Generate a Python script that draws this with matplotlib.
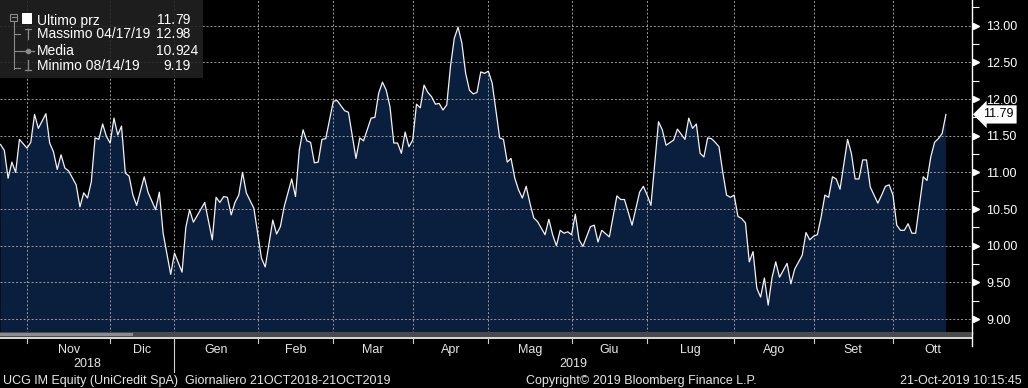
import matplotlib
matplotlib.use("Agg")
import matplotlib.pyplot as plt
import matplotlib.transforms as mtransforms
from matplotlib.patches import Rectangle
from matplotlib.ticker import MultipleLocator, FormatStrFormatter
import pandas as pd

W, H = 1028, 388
NAVY = "#0a1f3e"
plt.rcParams["font.family"] = ["Liberation Sans", "DejaVu Sans"]

# --- data: UCG IM Equity daily close ---
dates = [
    "2018-10-23", "2018-10-24", "2018-10-25", "2018-10-26", "2018-10-29", "2018-10-30",
    "2018-11-01", "2018-11-02", "2018-11-05", "2018-11-06", "2018-11-08", "2018-11-09",
    "2018-11-12", "2018-11-13", "2018-11-14", "2018-11-15", "2018-11-16", "2018-11-20",
    "2018-11-21", "2018-11-22", "2018-11-23", "2018-11-26", "2018-11-27", "2018-11-28",
    "2018-11-29", "2018-11-30",
    "2018-12-03", "2018-12-04", "2018-12-05", "2018-12-06", "2018-12-07", "2018-12-10",
    "2018-12-11", "2018-12-12", "2018-12-14", "2018-12-17", "2018-12-19", "2018-12-20",
    "2018-12-21", "2018-12-28",
    "2019-01-02", "2019-01-04", "2019-01-07", "2019-01-08", "2019-01-09", "2019-01-14",
    "2019-01-16", "2019-01-17", "2019-01-18", "2019-01-21", "2019-01-22", "2019-01-23",
    "2019-01-24", "2019-01-25", "2019-01-28", "2019-01-29", "2019-01-31",
    "2019-02-04", "2019-02-05", "2019-02-07", "2019-02-08", "2019-02-11", "2019-02-12",
    "2019-02-14", "2019-02-15", "2019-02-18", "2019-02-19", "2019-02-20", "2019-02-21",
    "2019-02-22", "2019-02-25", "2019-02-26", "2019-02-27",
    "2019-03-01", "2019-03-04", "2019-03-06", "2019-03-07", "2019-03-11", "2019-03-12",
    "2019-03-13", "2019-03-15", "2019-03-18", "2019-03-19", "2019-03-20", "2019-03-21",
    "2019-03-22", "2019-03-25", "2019-03-26", "2019-03-27", "2019-03-28", "2019-03-29",
    "2019-04-01", "2019-04-02", "2019-04-03", "2019-04-04", "2019-04-05", "2019-04-08",
    "2019-04-09", "2019-04-10", "2019-04-11", "2019-04-12", "2019-04-15", "2019-04-16",
    "2019-04-17", "2019-04-18", "2019-04-23", "2019-04-24", "2019-04-25", "2019-04-26",
    "2019-04-29", "2019-04-30",
    "2019-05-02", "2019-05-03", "2019-05-06", "2019-05-07", "2019-05-08", "2019-05-09",
    "2019-05-10", "2019-05-13", "2019-05-14", "2019-05-15", "2019-05-16", "2019-05-17",
    "2019-05-20", "2019-05-21", "2019-05-22", "2019-05-23", "2019-05-24", "2019-05-27",
    "2019-05-28", "2019-05-29", "2019-05-30", "2019-05-31",
    "2019-06-03", "2019-06-04", "2019-06-05", "2019-06-06", "2019-06-10", "2019-06-11",
    "2019-06-12", "2019-06-13", "2019-06-17", "2019-06-19", "2019-06-20", "2019-06-21",
    "2019-06-25", "2019-06-27", "2019-06-28",
    "2019-07-01", "2019-07-02", "2019-07-04", "2019-07-05", "2019-07-08", "2019-07-10",
    "2019-07-11", "2019-07-15", "2019-07-16", "2019-07-17", "2019-07-18", "2019-07-19",
    "2019-07-22", "2019-07-23", "2019-07-24", "2019-07-25", "2019-07-26", "2019-07-29",
    "2019-07-30", "2019-07-31",
    "2019-08-01", "2019-08-02", "2019-08-05", "2019-08-06", "2019-08-07", "2019-08-08",
    "2019-08-09", "2019-08-12", "2019-08-13", "2019-08-14", "2019-08-16", "2019-08-19",
    "2019-08-20", "2019-08-22", "2019-08-23", "2019-08-26", "2019-08-28", "2019-08-29",
    "2019-08-30",
    "2019-09-02", "2019-09-03", "2019-09-04", "2019-09-05", "2019-09-06", "2019-09-09",
    "2019-09-10", "2019-09-11", "2019-09-13", "2019-09-16", "2019-09-17", "2019-09-18",
    "2019-09-19", "2019-09-20", "2019-09-23", "2019-09-25", "2019-09-26", "2019-09-27",
    "2019-09-30",
    "2019-10-01", "2019-10-02", "2019-10-03", "2019-10-04", "2019-10-07", "2019-10-08",
    "2019-10-09", "2019-10-11", "2019-10-14", "2019-10-15", "2019-10-16", "2019-10-17",
    "2019-10-18", "2019-10-21",
]
closes = [
    11.38, 11.30, 10.92, 11.14, 11.00, 11.45,
    11.33, 11.41, 11.79, 11.60, 11.80, 11.40,
    11.28, 11.04, 11.24, 11.06, 11.02, 10.83,
    10.53, 10.72, 10.65, 10.87, 11.47, 11.45,
    11.66, 11.49,
    11.40, 11.74, 11.51, 11.63, 10.99, 10.95,
    10.69, 10.55, 10.94, 10.73, 10.49, 10.73,
    10.17, 9.61,
    9.90, 9.64, 10.25, 10.49, 10.32, 10.59,
    10.08, 10.66, 10.59, 10.67, 10.66, 10.42,
    10.59, 10.69, 11.00, 10.72, 10.51,
    9.83, 9.71, 10.35, 10.16, 10.26, 10.53,
    10.91, 10.67, 11.30, 11.58, 11.43, 11.41,
    11.13, 11.14, 11.45, 11.46,
    11.97, 11.98, 11.84, 11.82, 11.19, 11.47,
    11.43, 11.74, 11.75, 12.08, 12.23, 12.12,
    11.89, 11.40, 11.40, 11.26, 11.55, 11.35,
    11.44, 11.93, 11.88, 12.19, 12.09, 12.03,
    11.93, 11.94, 11.85, 11.92, 12.45, 12.83,
    12.98, 12.76, 12.35, 12.12, 12.07, 12.09,
    12.37, 12.35,
    12.38, 12.22, 11.85, 11.47, 11.45, 11.14,
    11.19, 10.92, 10.76, 10.65, 10.81, 10.58,
    10.38, 10.33, 10.24, 10.15, 10.36, 10.15,
    10.00, 10.21, 10.17, 10.19,
    10.15, 10.43, 10.08, 9.99, 10.26, 10.28,
    10.05, 10.21, 10.12, 10.68, 10.63, 10.63,
    10.28, 10.73, 10.81,
    10.69, 10.55, 11.69, 11.58, 11.37, 11.44,
    11.59, 11.45, 11.74, 11.60, 11.66, 11.26,
    11.21, 11.47, 11.46, 11.41, 11.35, 11.00,
    10.69, 10.66,
    10.69, 10.40, 10.37, 10.31, 9.78, 9.92,
    9.42, 9.30, 9.56, 9.19, 9.56, 9.78,
    9.57, 9.76, 9.48, 9.68, 9.87, 10.18,
    10.08,
    10.13, 10.15, 10.39, 10.69, 10.66, 10.94,
    10.91, 10.77, 11.45, 11.26, 10.91, 10.91,
    11.17, 11.17, 10.80, 10.58, 10.69, 10.81,
    10.83,
    10.69, 10.28, 10.21, 10.21, 10.30, 10.17,
    10.17, 10.94, 10.89, 11.21, 11.41, 11.46,
    11.53, 11.79,
]
# Borsa Italiana closing days inside the window
holidays = ["2018-12-24", "2018-12-25", "2018-12-26", "2018-12-31", "2019-01-01",
            "2019-04-19", "2019-04-22", "2019-05-01", "2019-08-15"]
month_labels = ["Nov", "Dic", "Gen", "Feb", "Mar", "Apr", "Mag", "Giu", "Lug", "Ago", "Set", "Ott"]
year_labels = ["2018", "2019"]
y_ticks = [9.0, 9.5, 10.0, 10.5, 11.0, 11.5, 12.0, 12.5, 13.0]
legend_names = ["Ultimo prz", "Massimo 04/17/19", "Media", "Minimo 08/14/19"]
legend_values = ["11.79", "12.98", "10.924", "9.19"]
footer_left = "UCG IM Equity (UniCredit SpA)  Giornaliero 21OCT2018-21OCT2019"
footer_mid = "Copyright\u00a9 2019 Bloomberg Finance L.P."
footer_right = "21-Oct-2019 10:15:45"

# trading-day axis (Bloomberg skips non-trading days)
sessions = pd.bdate_range("2018-10-22", "2019-10-21")
sessions = sessions[~sessions.isin(pd.to_datetime(holidays))]
x = sessions.get_indexer(pd.to_datetime(dates))
first_of_month = pd.Series(range(len(sessions)), index=sessions).groupby(sessions.to_period("M")).first()
starts = list(first_of_month.values[1:])  # Nov 2018 .. Oct 2019
x_lo, x_hi = 0.86, 257.9

fig = plt.figure(figsize=(W / 100, H / 100), dpi=100, facecolor="black")
ax = fig.add_axes([0, 1 - 333 / H, 972 / W, 333 / H], facecolor="black")

ax.fill_between(x, closes, 0, color=NAVY, lw=0, zorder=1)
ax.plot(x, closes, color="#f2f2f2", lw=0.9, zorder=3)
ax.set_xlim(x_lo, x_hi)
ax.set_ylim(8.81, 13.35)

ax.set_xticks(starts)
ax.set_yticks(y_ticks)
ax.set_axisbelow(False)
ax.grid(True, color="#9a9a9a", ls=(0, (2, 2)), lw=0.7)
ax.tick_params(axis="x", length=0, labelbottom=False)

ax.yaxis.tick_right()
ax.yaxis.set_major_formatter(FormatStrFormatter("%.2f"))
ax.yaxis.set_minor_locator(MultipleLocator(0.25))
ax.tick_params(axis="y", which="major", length=0, pad=10, labelsize=9, labelcolor="white")
ax.tick_params(axis="y", which="minor", length=5, width=0.8, color="white", direction="out")
for side in ["top", "bottom", "left"]:
    ax.spines[side].set_visible(False)
ax.spines["right"].set_color("white")
ax.spines["right"].set_linewidth(1.0)

# arrow-shaped major ticks
ytrans = mtransforms.blended_transform_factory(ax.transAxes, ax.transData)
ax.plot([1.0] * len(y_ticks), y_ticks, ls="none", marker=">", ms=4, color="white",
        transform=mtransforms.offset_copy(ytrans, fig, x=4, units="dots"), clip_on=False)

# last price tag
ax.annotate(f"{closes[-1]:.2f}", xy=(1.0, closes[-1]), xycoords=ytrans,
            xytext=(11, 0), textcoords="offset pixels", ha="left", va="center",
            fontsize=9, color="black", annotation_clip=False,
            bbox=dict(boxstyle="larrow,pad=0.25", fc="white", ec="none"))

# overlay in pixel coordinates for the Bloomberg furniture
ov = fig.add_axes([0, 0, 1, 1])
ov.set_xlim(0, W)
ov.set_ylim(H, 0)
ov.axis("off")
xtrans = mtransforms.blended_transform_factory(ax.transData, ov.transData)

# legend panel
ov.add_patch(Rectangle((0, 0), 203, 78, fc="#222222", ec="none", alpha=0.88))
tree = "#8a8a8a"
ov.plot([13.5, 13.5], [21, 69], color=tree, lw=0.8)
for yy in [34, 51, 68]:
    ov.plot([13.5, 20], [yy, yy], color=tree, lw=0.8)
ov.add_patch(Rectangle((10, 13.5), 7, 7, fc="none", ec=tree, lw=0.8))
ov.plot([11.5, 15.5], [17, 17], color=tree, lw=0.8)
ov.add_patch(Rectangle((22, 13), 10, 11, fc="white", ec="none"))
ov.plot([24.5, 30.5], [29, 29], color=tree, lw=0.9)
ov.plot([27.5, 27.5], [29, 39], color=tree, lw=0.9)
ov.plot([20, 34], [51, 51], color=tree, lw=0.9)
ov.plot([27.5], [51], marker="o", ms=3, color=tree)
ov.plot([27.5, 27.5], [60, 70], color=tree, lw=0.9)
ov.plot([24.5, 30.5], [70, 70], color=tree, lw=0.9)
for name, val, base in zip(legend_names, legend_values, [24.5, 38.5, 55, 69.5]):
    ov.text(37, base, name, color="white", fontsize=10, va="baseline")
    whole, frac = val.split(".")
    ov.text(175, base, whole + ".", color="white", fontsize=10, va="baseline", ha="right")
    ov.text(175, base, frac, color="white", fontsize=10, va="baseline", ha="left")

# bottom strip, axis line and month ticks
ov.add_patch(Rectangle((0, 332), 972, 5, fc="#4a4a4a", ec="none"))
ov.add_patch(Rectangle((0, 333), 133, 3, fc="#8c8c8c", ec="none"))
ov.plot([0, 972], [338, 338], color="white", lw=1.2)
ov.plot([972, 972], [333, 346], color="white", lw=1.0)
for s in starts:
    ov.plot([s, s], [338, 343], color="#cfcfcf", lw=0.8, transform=xtrans)
jan = starts[month_labels.index("Gen")]
ov.plot([jan, jan], [338, 372], color="#cfcfcf", lw=0.8, transform=xtrans)

edges = starts + [x_hi]
for lab, a, b in zip(month_labels, edges[:-1], edges[1:]):
    ov.text((a + b) / 2, 353, lab, transform=xtrans, ha="center", va="baseline",
            color="#e6e6e6", fontsize=9)
for lab, a, b in zip(year_labels, [x_lo, jan], [jan, x_hi]):
    ov.text((a + b) / 2, 367, lab, transform=xtrans, ha="center", va="baseline",
            color="#e6e6e6", fontsize=9)

ov.text(3, 384, footer_left, color="#e6e6e6", fontsize=9, va="baseline")
ov.text(526, 384, footer_mid, color="#e6e6e6", fontsize=9, va="baseline")
ov.text(1022, 384, footer_right, color="#e6e6e6", fontsize=9, va="baseline", ha="right")

fig.savefig("out.png", dpi=100, facecolor="black")
